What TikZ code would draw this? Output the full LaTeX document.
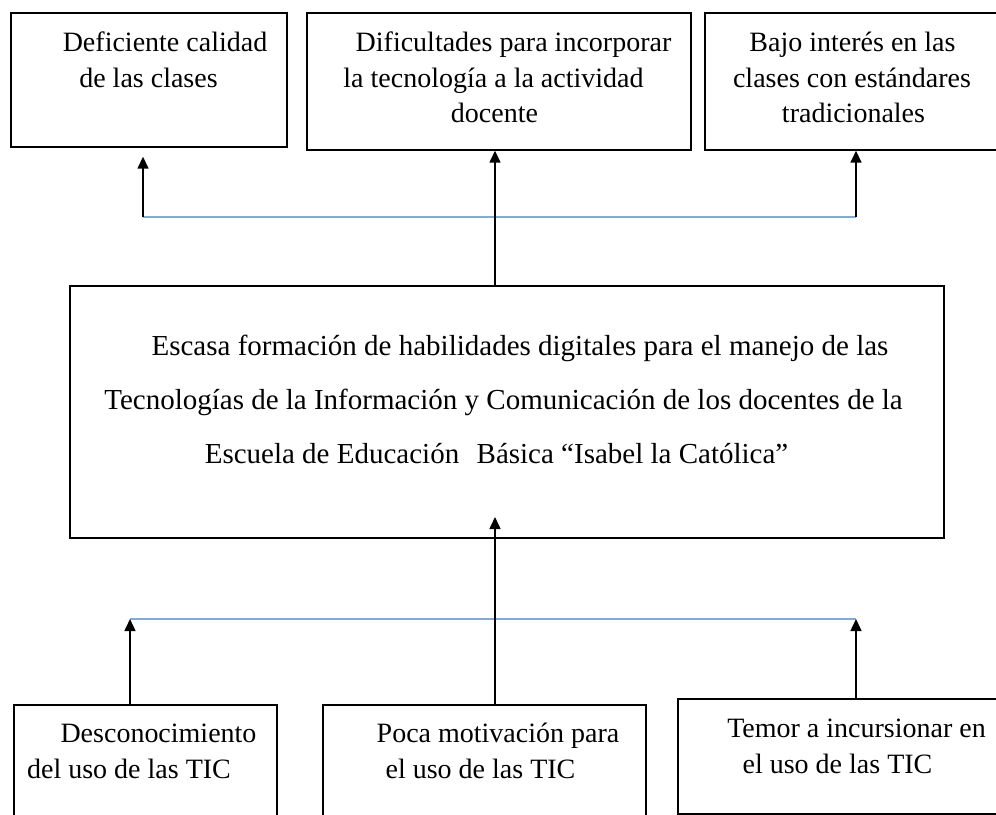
\documentclass[tikz,border=0pt]{standalone}
\usepackage{fontspec}
\setmainfont{Liberation Serif}
\usetikzlibrary{arrows.meta}
\definecolor{linkblue}{RGB}{130,170,210}
\begin{document}
\begin{tikzpicture}[x=1pt,y=-1pt,
  box/.style={draw=black, line width=1.7pt, inner sep=0pt, anchor=north west},
  txt/.style={anchor=base, inner sep=0pt, font=\fontsize{28}{30}\selectfont},
  midtxt/.style={anchor=base, inner sep=0pt, font=\fontsize{29}{31}\selectfont},
  arr/.style={draw=black, line width=1.5pt, -{Triangle[length=12pt,width=11pt]}},
  link/.style={draw=linkblue, line width=1.4pt}]
\useasboundingbox (0,0) rectangle (996,814);
\clip (0,0) rectangle (996,814);
\fill[white] (0,0) rectangle (996,814);

% top boxes
\node[box, minimum width=276pt, minimum height=134pt] (t1) at (10,12) {};
\node[box, minimum width=384pt, minimum height=137pt] (t2) at (306,12) {};
\node[box, minimum width=306pt, minimum height=137pt] (t3) at (704,12) {};
% middle box
\node[box, minimum width=874pt, minimum height=252pt] (m) at (69,285) {};
% bottom boxes
\node[box, minimum width=263pt, minimum height=136pt] (b1) at (13,704) {};
\node[box, minimum width=323pt, minimum height=136pt] (b2) at (322,704) {};
\node[box, minimum width=333pt, minimum height=115pt] (b3) at (677,698) {};

% texts
\node[txt] (t1a) at (165,51) {Deficiente calidad};
\node[txt] (t1b) at (148.5,87) {de las clases};
\node[txt] (t2a) at (513.5,51) {Dificultades para incorporar};
\node[txt] (t2b) at (493.5,87) {la tecnología a la actividad};
\node[txt] (t2c) at (494.5,122) {docente};
\node[txt] (t3a) at (852.5,51) {Bajo interés en las};
\node[txt] (t3b) at (852,87) {clases con estándares};
\node[txt] (t3c) at (853.5,122) {tradicionales};

\node[midtxt] (ma) at (520,355) {Escasa formación de habilidades digitales para el manejo de las};
\node[midtxt] (mb) at (503.5,409) {Tecnologías de la Información y Comunicación de los docentes de la};
\node[midtxt] (mc) at (496.5,463) {Escuela de Educación\hspace{0.35em} Básica “Isabel la Católica”};

\node[txt] (b1a) at (158.5,742) {Desconocimiento};
\node[txt] (b1b) at (129,778) {del uso de las TIC};
\node[txt] (b2a) at (498,742) {Poca motivación para};
\node[txt] (b2b) at (480.5,778) {el uso de las TIC};
\node[txt] (b3a) at (856.5,737) {Temor a incursionar en};
\node[txt] (b3b) at (837.5,773) {el uso de las TIC};

% junctions
\coordinate (jt1) at (143,217);
\coordinate (jtc) at (495,217);
\coordinate (jt3) at (856,217);
\coordinate (jb1) at (130,619);
\coordinate (jbc) at (495,619);
\coordinate (jb3) at (856,619);
\coordinate (mtip) at (495,517);

% upper connectors
\draw[link] (jt1) -- (jt3);
\draw[arr, shorten >=9pt] (jt1) -- (t1.south -| jt1);
\draw[arr] (jt3) -- (t3.south -| jt3);
\draw[arr] (m.north -| jtc) -- (t2.south -| jtc);

% lower connectors
\draw[link] (jb1) -- (jb3);
\draw[arr] (b1.north -| jb1) -- (jb1);
\draw[arr] (b3.north -| jb3) -- (jb3);
\draw[arr] (b2.north -| jbc) -- (mtip);
\end{tikzpicture}
\end{document}
